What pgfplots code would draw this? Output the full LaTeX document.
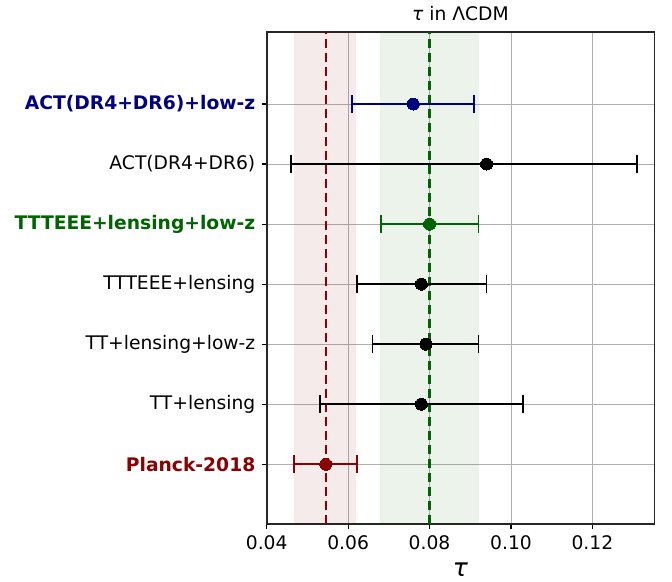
\documentclass[border=0pt]{standalone}
\usepackage{pgfplots}
\pgfplotsset{compat=1.18}
\usepackage{fontspec}
\setmainfont{DejaVu Sans}
\definecolor{mynavy}{RGB}{0,0,128}
\definecolor{mygreen}{RGB}{0,100,0}
\definecolor{myred}{RGB}{139,0,0}
\definecolor{gridgray}{RGB}{176,176,176}
\begin{document}
\fontsize{18.7bp}{22bp}\selectfont
\begin{tikzpicture}
\useasboundingbox (0,0) rectangle (672bp,582bp);
\begin{axis}[
  name=ax,
  at={(266.7bp,57.7bp)}, anchor=south west,
  scale only axis, width=387.6bp, height=492.3bp,
  xmin=0.04, xmax=0.1352, ymin=-1, ymax=7.2,
  scaled x ticks=false,
  xtick={0.04,0.06,0.08,0.10,0.12},
  xticklabel style={/pgf/number format/.cd, fixed, fixed zerofill, precision=2, assume math mode=true},
  ytick={0,1,2,3,4,5,6},
  yticklabels={
    {\textbf{\textcolor{myred}{Planck-2018}}},
    {TT+lensing},
    {TT+lensing+low-z},
    {TTTEEE+lensing},
    {\textbf{\textcolor{mygreen}{TTTEEE+lensing+low-z}}},
    {ACT(DR4+DR6)},
    {\textbf{\textcolor{mynavy}{ACT(DR4+DR6)+low-z}}}
  },
  tick label style={font=\fontsize{18.7bp}{22bp}\selectfont},
  xtick pos=bottom, ytick pos=left,
  tick align=outside, major tick length=5bp,
  tick style={black, line width=1.2bp},
  axis line style={black!85, line width=1.6bp},
  grid=major, major grid style={gridgray, line width=0.8bp},
  xlabel={\fontsize{25bp}{28bp}\selectfont\itshape τ},
  xlabel style={at={(axis description cs:0.5,0)}, anchor=base, yshift=-52.5bp, inner sep=0pt},
  clip=true,
]
% bands
\addplot[draw=none, fill=myred, fill opacity=0.08] coordinates {(0.0466,-1) (0.0620,-1) (0.0620,7.2) (0.0466,7.2)} -- cycle;
\addplot[draw=none, fill=mygreen, fill opacity=0.08] coordinates {(0.0679,-1) (0.0922,-1) (0.0922,7.2) (0.0679,7.2)} -- cycle;
% reference lines
\addplot[myred, line width=2.3bp, dash pattern=on 9.5bp off 4.5bp] coordinates {(0.0545,-1) (0.0545,7.2)};
\addplot[mygreen, line width=2.3bp, dash pattern=on 9.5bp off 4.5bp] coordinates {(0.0800,-1) (0.0800,7.2)};
% measurements
\pgfplotsset{ebar/.style={only marks, mark=*, mark size=6bp, color=#1, mark options={fill=#1, draw=#1, line width=0pt},
  error bars/.cd, x dir=both, x explicit, error bar style={line width=2.3bp, color=#1},
  error mark options={rotate=90, line width=1.8bp, mark size=9bp, color=#1}}}
\addplot[ebar=myred] coordinates {(0.0545,0) += (0.0077,0) -= (0.0077,0)};
\addplot[ebar=black] coordinates {(0.0780,1) += (0.0250,0) -= (0.0249,0)};
\addplot[ebar=black] coordinates {(0.0791,2) += (0.0129,0) -= (0.0131,0)};
\addplot[ebar=black] coordinates {(0.0780,3) += (0.0160,0) -= (0.0159,0)};
\addplot[ebar=mygreen] coordinates {(0.0800,4) += (0.0120,0) -= (0.0119,0)};
\addplot[ebar=black] coordinates {(0.0940,5) += (0.0369,0) -= (0.0480,0)};
\addplot[ebar=mynavy] coordinates {(0.0760,6) += (0.0150,0) -= (0.0150,0)};
\end{axis}
\node[anchor=base, inner sep=0pt, font=\fontsize{18.7bp}{22bp}\selectfont] at ([yshift=11bp]ax.north) {{\itshape τ} in ΛCDM};
\end{tikzpicture}
\end{document}
